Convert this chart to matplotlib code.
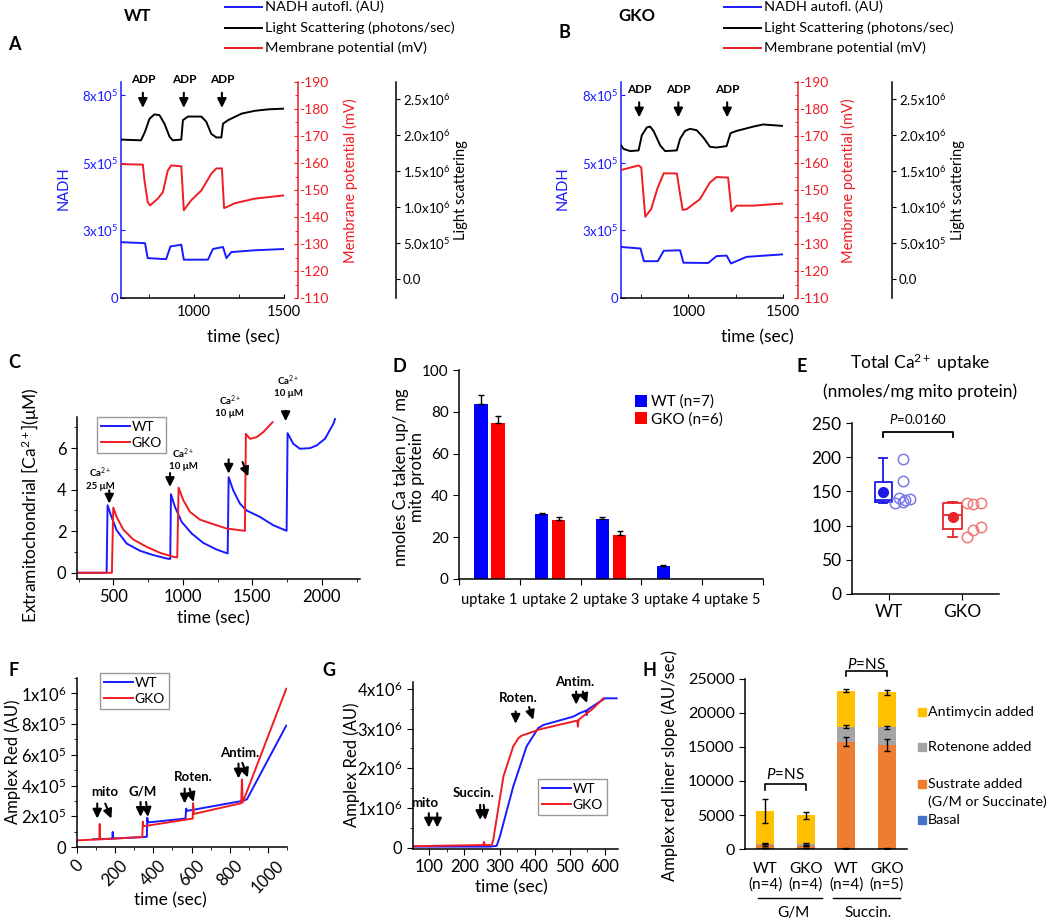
import numpy as np
import matplotlib
matplotlib.use("Agg")
import matplotlib.pyplot as plt
from matplotlib.lines import Line2D
from matplotlib.patches import Rectangle
from matplotlib.ticker import MultipleLocator

plt.rcParams["font.family"] = ["Lato", "DejaVu Sans"]
plt.rcParams["mathtext.fontset"] = "custom"
plt.rcParams["mathtext.rm"] = "Lato"
plt.rcParams["mathtext.it"] = "Lato:italic"
plt.rcParams["mathtext.bf"] = "Lato:bold"
plt.rcParams["axes.unicode_minus"] = False
plt.rcParams["axes.linewidth"] = 1.1

BLUE = "#1a1aff"
RED = "#f01c24"

# ---------------- A : WT traces (time in sec) ----------------
a_nadh_t = [597, 730, 745, 847, 871, 931, 945, 1079, 1106, 1162, 1181, 1208, 1338, 1500]
a_nadh = [2.20e5, 2.16e5, 1.57e5, 1.53e5, 2.03e5, 2.10e5, 1.51e5, 1.51e5, 1.93e5, 2.01e5,
          1.57e5, 1.81e5, 1.88e5, 1.93e5]
a_mv_t = [597, 718, 727, 745, 758, 801, 829, 856, 875, 931, 945, 986, 1042, 1097, 1125,
          1156, 1168, 1190, 1227, 1338, 1500]
a_mv = [-159.6, -159.4, -153.5, -145.5, -144.3, -146.8, -149.2, -157.2, -159.1, -158.8,
        -142.5, -146.2, -149.8, -156.0, -158.0, -158.0, -143.3, -143.9, -145.1, -146.8, -148.0]
a_ls_t = [597, 708, 730, 755, 782, 810, 838, 866, 884, 931, 940, 968, 1042, 1069, 1097,
          1125, 1153, 1162, 1190, 1264, 1338, 1412, 1500]
a_ls = [1.94e6, 1.93e6, 2.05e6, 2.23e6, 2.29e6, 2.28e6, 2.16e6, 1.98e6, 1.93e6, 1.94e6,
        2.21e6, 2.26e6, 2.26e6, 2.19e6, 2.02e6, 1.97e6, 1.97e6, 2.16e6, 2.21e6, 2.30e6,
        2.34e6, 2.36e6, 2.37e6]
a_adp = [718, 945, 1156]

# ---------------- B : GKO traces ----------------
b_nadh_t = [644, 747, 765, 838, 870, 956, 974, 1105, 1149, 1202, 1225, 1307, 1500]
b_nadh = [2.01e5, 1.95e5, 1.45e5, 1.45e5, 1.86e5, 1.88e5, 1.39e5, 1.38e5, 1.65e5, 1.67e5,
          1.36e5, 1.62e5, 1.72e5]
b_mv_t = [644, 737, 751, 772, 803, 838, 870, 939, 956, 970, 991, 1061, 1114, 1149, 1210,
          1228, 1254, 1342, 1500]
b_mv = [-157.4, -159.1, -158.3, -140.1, -142.9, -150.9, -156.2, -156.1, -148.5, -142.6,
        -142.9, -146.6, -152.8, -154.8, -154.6, -142.1, -144.2, -144.2, -145.0]
b_ls_t = [644, 658, 693, 737, 754, 781, 798, 816, 851, 877, 939, 956, 982, 1009, 1044, 1079,
          1114, 1149, 1202, 1223, 1254, 1342, 1395, 1500]
b_ls = [1.86e6, 1.81e6, 1.78e6, 1.79e6, 2.00e6, 2.11e6, 2.12e6, 2.06e6, 1.86e6, 1.78e6,
        1.79e6, 1.95e6, 2.06e6, 2.09e6, 2.07e6, 1.97e6, 1.84e6, 1.83e6, 1.85e6, 2.03e6,
        2.06e6, 2.12e6, 2.15e6, 2.13e6]
b_adp = [740, 947, 1205]

trace_labels = ["NADH autofl. (AU)", "Light Scattering (photons/sec)", "Membrane potential (mV)"]
nadh_ticks = [0, 2.667e5, 5.333e5, 8e5]
nadh_ticklabels = ["0", "3x10$^5$", "5x10$^5$", "8x10$^5$"]
ls_ticks = [0, 0.5e6, 1.0e6, 1.5e6, 2.0e6, 2.5e6]
ls_ticklabels = ["0.0", "5.0x10$^5$", "1.0x10$^6$", "1.5x10$^6$", "2.0x10$^6$", "2.5x10$^6$"]

# ---------------- C : extramitochondrial Ca2+ ----------------
c_wt_t = [239, 452, 459, 483, 524, 596, 692, 788, 896, 910, 915, 944, 992, 1064, 1147, 1243,
          1323, 1330, 1363, 1411, 1459, 1555, 1651, 1747, 1754, 1795, 1843, 1915, 1963, 2023,
          2083, 2095]
c_wt = [0, 0, 3.25, 2.77, 2.05, 1.41, 1.06, 0.85, 0.67, 0.67, 3.78, 3.17, 2.45, 1.89, 1.44,
        1.12, 0.93, 4.6, 3.97, 3.33, 3.0, 2.69, 2.29, 2.02, 6.72, 6.21, 5.97, 6.0, 6.13, 6.45,
        7.17, 7.4]
c_gko_t = [239, 490, 500, 524, 572, 644, 740, 836, 932, 960, 970, 1004, 1052, 1123, 1219,
           1315, 1447, 1454, 1483, 1531, 1579, 1646]
c_gko = [0, 0, 3.14, 2.69, 2.08, 1.6, 1.25, 0.96, 0.77, 0.74, 4.1, 3.49, 2.93, 2.56, 2.34,
         2.13, 2.02, 6.69, 6.45, 6.53, 6.77, 7.25]

# ---------------- D : Ca uptake per addition ----------------
d_labels = ["uptake 1", "uptake 2", "uptake 3", "uptake 4", "uptake 5"]
d_wt = [83.6, 31.0, 28.7, 6.0, 0]
d_wt_err = [4.3, 0.8, 0.8, 0.8, 0]
d_gko = [74.8, 28.0, 20.9, 0, 0]
d_gko_err = [3.2, 1.5, 2.3, 0, 0]

# ---------------- E : total Ca uptake ----------------
e_wt = [198, 165, 133, 140, 135, 137, 139]
e_gko = [133, 131, 133, 83, 94, 98]
e_box_wt = dict(q1=134.7, med=138, q3=164, whislo=133, whishi=199, mean=149.5)
e_box_gko = dict(q1=94.4, med=115.3, q3=133.3, whislo=82.7, whishi=134, mean=112.8)

# ---------------- F : Amplex red, G/M ----------------
f_wt_t = [84, 185, 187, 190, 354, 366, 368, 372, 568, 572, 576, 866, 890, 1096]
f_wt = [5.0e4, 5.4e4, 9.8e4, 5.5e4, 6.5e4, 6.7e4, 1.9e5, 1.6e5, 1.85e5, 2.5e5, 2.35e5,
        3.0e5, 3.1e5, 7.9e5]
f_gko_t = [0, 117, 119, 121, 342, 345, 348, 606, 608, 612, 860, 864, 868, 1096]
f_gko = [4.3e4, 5.0e4, 1.5e5, 5.0e4, 6.5e4, 1.65e5, 1.35e5, 1.85e5, 2.85e5, 2.15e5,
         2.85e5, 4.4e5, 2.9e5, 1.03e6]

# ---------------- G : Amplex red, succinate ----------------
g_wt_t = [53, 273, 292, 301, 339, 377, 410, 425, 510, 529, 546, 548, 550, 600, 633]
g_wt = [0.03e6, 0.03e6, 0.05e6, 0.28e6, 1.54e6, 2.55e6, 3.01e6, 3.09e6, 3.30e6, 3.39e6,
        3.45e6, 3.34e6, 3.47e6, 3.76e6, 3.76e6]
g_gko_t = [53, 254, 256, 258, 278, 282, 311, 339, 354, 363, 415, 521, 523, 525, 567, 595]
g_gko = [0.04e6, 0.07e6, 0.15e6, 0.07e6, 0.07e6, 0.19e6, 1.79e6, 2.55e6, 2.76e6, 2.82e6,
         2.98e6, 3.20e6, 3.05e6, 3.22e6, 3.51e6, 3.76e6]

# ---------------- H : Amplex red slopes ----------------
h_groups = ["WT\n(n=4)", "GKO\n(n=4)", "WT\n(n=4)", "GKO\n(n=5)"]
h_basal = [150, 150, 100, 100]
h_substrate = [400, 350, 15700, 15200]
h_rotenone = [250, 250, 2200, 2600]
h_antimycin = [4800, 4200, 5280, 5130]
h_err = {
    "basal": [60, 60, 60, 60],
    "substrate": [150, 120, 600, 900],
    "rotenone": [120, 120, 200, 250],
    "antimycin": [1800, 550, 250, 400],
}
h_names = ["Antimycin added", "Rotenone added", "Sustrate added\n(G/M or Succinate)", "Basal"]
h_colors = ["#ffc000", "#a5a5a5", "#ed7d31", "#4472c4"]

# ---------------- figure ----------------
W, H = 1050, 921
fig = plt.figure(figsize=(W / 100, H / 100), dpi=100)


def rect(l, t, r, b):
    return [l / W, 1 - b / H, (r - l) / W, (b - t) / H]


def ftext(x, y, s, **kw):
    kw.setdefault("ha", "center")
    kw.setdefault("va", "center")
    return fig.text(x / W, 1 - y / H, s, **kw)


def arrow(ax, x0, y0, x1, y1, coords="data"):
    ax.annotate("", xy=(x1, y1), xytext=(x0, y0), xycoords=coords, textcoords=coords,
                annotation_clip=False,
                arrowprops=dict(arrowstyle="-|>,head_length=0.45,head_width=0.22",
                                color="k", lw=1.5, shrinkA=0, shrinkB=0, mutation_scale=12))


def small_legend(ax, anchor):
    ax.legend(loc="upper left", bbox_to_anchor=anchor, fontsize=10, handlelength=2.1,
              handletextpad=0.1, labelspacing=0.3, borderpad=0.3, borderaxespad=0,
              fancybox=False, edgecolor="#999999", framealpha=1)


def trace_panel(box, xlim, nt, nv, mt, mv, lt, lv, adp, adp_y, red_pos, blk_pos):
    ax = fig.add_axes(rect(*box))
    ax.plot(nt, nv, color=BLUE, lw=1.4)
    ax.set_xlim(*xlim)
    ax.set_ylim(0, 8.51e5)
    ax.set_yticks(nadh_ticks)
    ax.set_yticklabels(nadh_ticklabels)
    ax.set_xticks([1000, 1500])
    ax.xaxis.set_minor_locator(MultipleLocator(250))
    ax.tick_params(axis="y", colors=BLUE, direction="in", labelsize=9.5, length=3, pad=2)
    ax.tick_params(axis="x", direction="in", labelsize=10.5, length=3, pad=5)
    ax.tick_params(axis="x", which="minor", direction="in", length=3)
    ax.spines["left"].set_color(BLUE)
    ax.spines["top"].set_visible(False)
    ax.spines["right"].set_visible(False)

    axr = ax.twinx()
    axr.plot(mt, mv, color=RED, lw=1.4)
    axr.set_ylim(-110, -190)
    axr.set_yticks(np.arange(-110, -191, -10))
    axr.yaxis.set_minor_locator(MultipleLocator(5))
    axr.spines["right"].set_position(("axes", red_pos))
    axr.spines["right"].set_color(RED)
    for s in ["left", "top", "bottom"]:
        axr.spines[s].set_visible(False)
    axr.tick_params(axis="y", colors=RED, direction="in", labelsize=10, length=3, pad=1)
    axr.tick_params(axis="y", which="minor", colors=RED, direction="in", length=2)

    axb = ax.twinx()
    axb.plot(lt, lv, color="k", lw=1.4)
    axb.set_ylim(-0.26e6, 2.74e6)
    axb.set_yticks(ls_ticks)
    axb.set_yticklabels(ls_ticklabels)
    axb.spines["right"].set_position(("axes", blk_pos))
    for s in ["left", "top", "bottom"]:
        axb.spines[s].set_visible(False)
    axb.tick_params(axis="y", direction="out", labelsize=9.5, length=3, pad=2)

    for t in adp:
        ax.annotate("ADP", xy=(t, adp_y), xycoords=("data", "axes fraction"),
                    ha="center", va="center", fontsize=8.5, fontweight="bold",
                    annotation_clip=False)
        arrow(ax, t, adp_y - 0.06, t, adp_y - 0.13, coords=("data", "axes fraction"))
    return ax


def top_legend(x0):
    for (col, lab), yy in zip(zip([BLUE, "k", RED], trace_labels), [7, 28, 48]):
        fig.add_artist(Line2D([x0 / W, (x0 + 37) / W], [1 - yy / H, 1 - yy / H],
                              color=col, lw=1.4, transform=fig.transFigure))
        ftext(x0 + 40, yy, lab, ha="left", fontsize=10.4)


# ---- A ----
trace_panel((121, 82, 284, 298), (597, 1500), a_nadh_t, a_nadh, a_mv_t, a_mv, a_ls_t, a_ls,
            a_adp, 1.01, 1.086, 1.687)
ftext(243, 337, "time (sec)", fontsize=12.5)
ftext(64, 188, "NADH", rotation=90, color=BLUE, fontsize=10.5)
ftext(350, 181, "Membrane potential (mV)", rotation=90, color=RED, fontsize=10.5)
ftext(461, 190, "Light scattering", rotation=90, fontsize=10.5)
ftext(138, 16, "WT", fontsize=12, fontweight="bold")
ftext(8, 44, "A", fontsize=13, fontweight="bold", ha="left")
top_legend(225)

# ---- B ----
trace_panel((621, 82, 783, 298), (644, 1500), b_nadh_t, b_nadh, b_mv_t, b_mv, b_ls_t, b_ls,
            b_adp, 0.966, 1.093, 1.673)
ftext(757, 337, "time (sec)", fontsize=12.5)
ftext(563, 188, "NADH", rotation=90, color=BLUE, fontsize=10.5)
ftext(848, 181, "Membrane potential (mV)", rotation=90, color=RED, fontsize=10.5)
ftext(958, 190, "Light scattering", rotation=90, fontsize=10.5)
ftext(637, 16, "GKO", fontsize=12, fontweight="bold")
ftext(558, 33, "B", fontsize=13, fontweight="bold", ha="left")
top_legend(724)

# ---- C ----
axc = fig.add_axes(rect(77, 417, 360, 579))
axc.plot(c_wt_t, c_wt, color=BLUE, lw=1.4, label="WT")
axc.plot(c_gko_t, c_gko, color=RED, lw=1.4, label="GKO")
axc.set_xlim(239, 2275)
axc.set_ylim(-0.3, 7.5)
axc.set_xticks([500, 1000, 1500, 2000])
axc.set_yticks([0, 2, 4, 6])
axc.xaxis.set_minor_locator(MultipleLocator(250))
axc.yaxis.set_minor_locator(MultipleLocator(1))
axc.tick_params(labelsize=12, length=4)
axc.tick_params(which="minor", length=2.5)
axc.spines["top"].set_visible(False)
axc.spines["right"].set_visible(False)
small_legend(axc, (0.07, 1.0))
ca_kw = dict(ha="center", va="center", fontsize=7, fontweight="bold", annotation_clip=False)
axc.annotate("Ca$^{2+}$\n25 μM", xy=(404, 4.55), **ca_kw)
arrow(axc, 471, 3.97, 471, 3.33)
axc.annotate("Ca$^{2+}$\n10 μM", xy=(1005, 5.5), **ca_kw)
arrow(axc, 908, 4.8, 908, 4.13)
axc.annotate("Ca$^{2+}$\n10 μM", xy=(1339, 8.05), **ca_kw)
arrow(axc, 1330, 5.46, 1330, 4.77)
arrow(axc, 1430, 5.33, 1471, 4.64)
axc.annotate("Ca$^{2+}$\n10 μM", xy=(1759, 9.0), **ca_kw)
arrow(axc, 1740, 7.8, 1740, 7.3)
ftext(213, 618, "time (sec)", fontsize=12.5)
ftext(31, 505, "Extramitochondrial [Ca$^{2+}$](μM)", rotation=90, fontsize=12.5)
ftext(8, 362, "C", fontsize=13, fontweight="bold", ha="left")

# ---- D ----
axd = fig.add_axes(rect(459, 370, 763, 579))
xd = np.arange(len(d_labels))
axd.bar(xd - 0.14, d_wt, width=0.22, color="#0000ff", label="WT (n=7)")
axd.bar(xd + 0.14, d_gko, width=0.22, color="#ff0000", label="GKO (n=6)")
for off, vals, errs in [(-0.14, d_wt, d_wt_err), (0.14, d_gko, d_gko_err)]:
    for i, (v, e) in enumerate(zip(vals, errs)):
        if v > 0:
            axd.errorbar(xd[i] + off, v, yerr=[[0], [e]], color="k", lw=1, capsize=2.5,
                         capthick=1)
axd.set_xlim(-0.5, len(d_labels) - 0.5)
axd.set_ylim(0, 100)
axd.set_yticks(np.arange(0, 101, 20))
axd.set_xticks(np.arange(-0.5, len(d_labels)), [""] * (len(d_labels) + 1))
axd.set_xticks(xd, d_labels, minor=True)
axd.tick_params(axis="x", which="minor", length=0, labelsize=10.5, pad=10)
axd.tick_params(axis="x", which="major", length=4)
axd.tick_params(axis="y", labelsize=11, length=4)
axd.spines["top"].set_visible(False)
axd.spines["right"].set_visible(False)
axd.legend(loc="upper left", bbox_to_anchor=(627 / W, 1 - 387 / H),
           bbox_transform=fig.transFigure, frameon=False, fontsize=11, handlelength=0.8,
           handleheight=0.8, handletextpad=0.3, labelspacing=0.2, borderpad=0)
ftext(409, 477, "nmoles Ca taken up/ mg\nmito protein", rotation=90, fontsize=12,
      linespacing=1.05)
ftext(393, 367, "D", fontsize=13, fontweight="bold", ha="left")

# ---- E ----
axe = fig.add_axes(rect(852, 423, 999, 594))
jit_wt = [1.19, 1.19, 1.08, 1.14, 1.19, 1.22, 1.29]
jit_gko = [2.06, 2.15, 2.25, 2.06, 2.15, 2.25]
for box, pos, wid, col, pts, jit, pcol in [
        (e_box_wt, 0.925, 0.23, "#1a1ae6", e_wt, jit_wt, "#7c7ce8"),
        (e_box_gko, 1.87, 0.26, "#e8262c", e_gko, jit_gko, "#f07a7a")]:
    lp = dict(color=col, lw=1.3)
    axe.bxp([dict(box, fliers=[])], positions=[pos], widths=wid, showfliers=False,
            capwidths=[wid * 0.5], boxprops=lp, whiskerprops=lp, capprops=lp,
            medianprops=lp, manage_ticks=False)
    axe.plot(pos, box["mean"], "o", color=col, ms=7)
    axe.plot(jit, pts, "o", mfc="none", mec=pcol, ms=7.5, mew=1.1)
axe.plot([0.925, 0.925, 1.87, 1.87], [229, 237, 237, 229], color="k", lw=1.3, clip_on=False)
axe.text(1.4, 256, "$P$=0.0160", ha="center", va="center", fontsize=9.5)
axe.set_xlim(0.5, 2.5)
axe.set_ylim(0, 250)
axe.set_xticks([1, 2], ["WT", "GKO"])
axe.set_yticks(np.arange(0, 251, 50))
axe.tick_params(axis="y", labelsize=12.5, length=4)
axe.tick_params(axis="x", labelsize=12.5, length=4)
axe.spines["top"].set_visible(False)
axe.spines["right"].set_visible(False)
ftext(920, 363, "Total Ca$^{2+}$ uptake", fontsize=12.5)
ftext(920, 392, "(nmoles/mg mito protein)", fontsize=12.5)
ftext(797, 367, "E", fontsize=13, fontweight="bold", ha="left")

# ---- F ----
axf = fig.add_axes(rect(77, 678, 287, 847))
axf.plot(f_wt_t, f_wt, color=BLUE, lw=1.4, label="WT")
axf.plot(f_gko_t, f_gko, color=RED, lw=1.4, label="GKO")
axf.set_xlim(0, 1100)
axf.set_ylim(0, 1.1e6)
axf.set_xticks(np.arange(0, 1001, 200))
axf.set_xticklabels([str(v) for v in range(0, 1001, 200)], rotation=45, ha="center")
axf.xaxis.set_minor_locator(MultipleLocator(100))
axf.set_yticks([0, 2e5, 4e5, 6e5, 8e5, 1e6])
axf.set_yticklabels(["0", "2x10$^5$", "4x10$^5$", "6x10$^5$", "8x10$^5$", "1x10$^6$"])
axf.yaxis.set_minor_locator(MultipleLocator(1e5))
axf.tick_params(labelsize=12, length=4)
axf.tick_params(which="minor", length=2.5)
axf.spines["top"].set_visible(False)
axf.spines["right"].set_visible(False)
small_legend(axf, (0.11, 1.03))
lab_kw = dict(ha="center", va="center", fontsize=9.5, fontweight="bold", annotation_clip=False)
axf.annotate("mito", xy=(145, 3.59e5), **lab_kw)
arrow(axf, 106, 2.83e5, 106, 1.85e5)
arrow(axf, 148, 2.83e5, 180, 1.85e5)
axf.annotate("G/M", xy=(346, 3.59e5), **lab_kw)
arrow(axf, 333, 2.93e5, 333, 1.96e5)
arrow(axf, 362, 2.93e5, 372, 1.96e5)
axf.annotate("Roten.", xy=(607, 4.57e5), **lab_kw)
arrow(axf, 564, 3.8e5, 564, 2.83e5)
arrow(axf, 590, 3.8e5, 611, 2.93e5)
axf.annotate("Antim.", xy=(852, 6.13e5), **lab_kw)
arrow(axf, 846, 5.43e5, 846, 4.46e5)
arrow(axf, 866, 5.48e5, 895, 4.52e5)
ftext(170, 900, "time (sec)", fontsize=12.5)
ftext(13, 762, "Amplex Red (AU)", rotation=90, fontsize=12)
ftext(8, 670, "F", fontsize=13, fontweight="bold", ha="left")

# ---- G ----
axg = fig.add_axes(rect(413, 682, 618, 849))
axg.plot(g_wt_t, g_wt, color=BLUE, lw=1.4, label="WT")
axg.plot(g_gko_t, g_gko, color=RED, lw=1.4, label="GKO")
axg.set_xlim(54, 637)
axg.set_ylim(-0.03e6, 4.17e6)
axg.set_xticks(np.arange(100, 601, 100))
axg.set_yticks([0, 1e6, 2e6, 3e6, 4e6])
axg.set_yticklabels(["0", "1x10$^6$", "2x10$^6$", "3x10$^6$", "4x10$^6$"])
axg.xaxis.set_minor_locator(MultipleLocator(50))
axg.yaxis.set_minor_locator(MultipleLocator(0.5e6))
axg.tick_params(labelsize=12, length=4)
axg.tick_params(which="minor", length=2.5)
axg.spines["top"].set_visible(False)
axg.spines["right"].set_visible(False)
small_legend(axg, (0.61, 0.42))
axg.annotate("mito", xy=(88, 1.12e6), **lab_kw)
arrow(axg, 99, 0.87e6, 99, 0.51e6)
arrow(axg, 123, 0.87e6, 123, 0.51e6)
axg.annotate("Succin.", xy=(225, 1.37e6), **lab_kw)
arrow(axg, 245, 1.08e6, 245, 0.70e6)
arrow(axg, 255, 1.08e6, 260, 0.70e6)
axg.annotate("Roten.", xy=(353, 3.76e6), **lab_kw)
arrow(axg, 346, 3.43e6, 346, 3.12e6)
arrow(axg, 384, 3.54e6, 396, 3.22e6)
axg.annotate("Antim.", xy=(515, 4.18e6), **lab_kw)
arrow(axg, 518, 3.93e6, 518, 3.60e6)
arrow(axg, 537, 3.93e6, 549, 3.64e6)
ftext(511, 887, "time (sec)", fontsize=12.5)
ftext(352, 765, "Amplex Red (AU)", rotation=90, fontsize=12)
ftext(322, 670, "G", fontsize=13, fontweight="bold", ha="left")

# ---- H ----
axh = fig.add_axes(rect(745, 679, 907, 849))
xh = np.arange(1, len(h_groups) + 1)
stack = [("basal", h_basal, h_colors[3]), ("substrate", h_substrate, h_colors[2]),
         ("rotenone", h_rotenone, h_colors[1]), ("antimycin", h_antimycin, h_colors[0])]
bottom = np.zeros(len(h_groups))
for key, vals, col in stack:
    axh.bar(xh, vals, bottom=bottom, width=0.45, color=col)
    bottom = bottom + np.array(vals)
    axh.errorbar(xh, bottom, yerr=h_err[key], fmt="none", ecolor="k", elinewidth=1,
                 capsize=2, capthick=1)
axh.set_xlim(0.5, 4.5)
axh.set_ylim(0, 25000)
axh.set_yticks(np.arange(0, 25001, 5000))
axh.set_xticks(xh, h_groups)
axh.tick_params(axis="x", length=0, labelsize=11, pad=9)
axh.tick_params(axis="y", labelsize=11.5, length=4)
axh.spines["top"].set_visible(False)
axh.spines["right"].set_visible(False)
axh.plot([1, 1, 2, 2], [8660, 9550, 9550, 8660], color="k", lw=1.2)
axh.text(1.5, 10900, "$P$=NS", ha="center", va="center", fontsize=11)
axh.plot([3, 3, 4, 4], [25390, 26230, 26230, 25390], color="k", lw=1.2, clip_on=False)
axh.text(3.5, 27100, "$P$=NS", ha="center", va="center", fontsize=11)
xt = axh.get_xaxis_transform()
axh.plot([0.82, 2.40], [-0.29, -0.29], transform=xt, color="k", lw=1, clip_on=False)
axh.plot([2.67, 4.33], [-0.29, -0.29], transform=xt, color="k", lw=1, clip_on=False)
axh.text(1.69, -0.378, "G/M", transform=xt, ha="center", va="center", fontsize=11)
axh.text(3.54, -0.378, "Succin.", transform=xt, ha="center", va="center", fontsize=11)
for name, col, yy in zip(h_names, h_colors, [712, 747, 784, 820]):
    fig.add_artist(Rectangle((918 / W, 1 - (yy + 4) / H), 8 / W, 8 / H, color=col,
                             transform=fig.transFigure))
    ftext(928, yy, name.split("\n")[0], ha="left", fontsize=10.3)
    if "\n" in name:
        ftext(928, yy + 18, name.split("\n")[1], ha="left", fontsize=10.3)
ftext(670, 765, "Amplex red liner slope (AU/sec)", rotation=90, fontsize=12)
ftext(642, 670, "H", fontsize=13, fontweight="bold", ha="left")

fig.savefig("out.png", dpi=100)
